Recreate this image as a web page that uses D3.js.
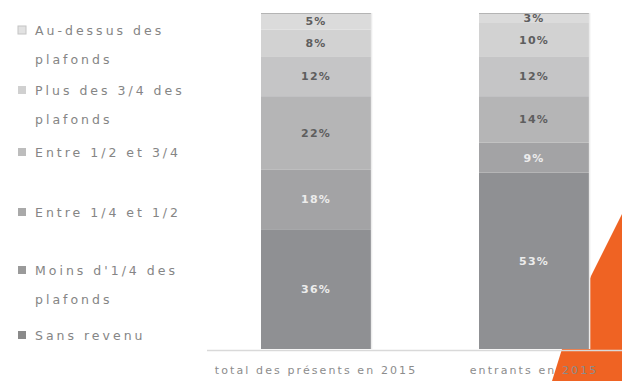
<!DOCTYPE html>
<html>
<head>
<meta charset="utf-8">
<script src="https://cdn.jsdelivr.net/npm/d3@7"></script>
<style>
  html, body { margin: 0; padding: 0; background: #fff; }
  svg { display: block; }
</style>
</head>
<body>
<svg id="chart" width="622" height="381"></svg>
<script>
// Categories (one stacked bar each)
const categories = ["total des présents en 2015", "entrants en 2015"];

// Income bands, stacked bottom to top
const bands = [
  "Sans revenu",
  "Moins d'1/4 des plafonds",
  "Entre 1/4 et 1/2",
  "Entre 1/2 et 3/4",
  "Plus des 3/4 des plafonds",
  "Au-dessus des plafonds"
];

// Shares (%) per band, bottom to top
const presentsValues = [36, 18, 22, 12, 8, 5];
const entrantsValues = [53, 9, 14, 12, 10, 3];

// Legend lines (top to bottom)
const legendLines = [
  ["Au-dessus des", "plafonds"],
  ["Plus des 3/4 des", "plafonds"],
  ["Entre 1/2 et 3/4"],
  ["Entre 1/4 et 1/2"],
  ["Moins d'1/4 des", "plafonds"],
  ["Sans revenu"]
];

const bandColors = ["#8f9093", "#a3a3a5", "#b5b5b6", "#c5c5c6", "#d2d2d2", "#dbdbdb"];
const legendColors = ["#8a8a8a", "#9a9a9a", "#a9a9a9", "#bdbdbd", "#d0d0d0", "#e2e2e2"];
const labelInk = ["#ececec", "#ececec", "#5e5e5e", "#5e5e5e", "#5e5e5e", "#5e5e5e"];

const svg = d3.select("#chart");

const rows = categories.map((c, i) => {
  const vals = i === 0 ? presentsValues : entrantsValues;
  const r = { cat: c };
  bands.forEach((b, j) => r[b] = vals[j]);
  return r;
});

const stack = d3.stack().keys(bands);
const series = stack(rows);
const total = d3.max(rows, r => d3.sum(bands, b => r[b]));

const x = d3.scaleBand().domain(categories).range([206.5, 643.6])
  .paddingInner(0.495).paddingOuter(0.25);
const y = d3.scaleLinear().domain([0, total]).range([349, 13]);

// Orange decorative slash in the lower right corner (behind the bars)
const slash = "M622,214 L591,276 L562,349 L552,381 L622,381 Z";
svg.append("defs").append("clipPath").attr("id", "slashClip")
  .append("path").attr("d", slash);
svg.append("path").attr("d", slash).attr("fill", "#ef6323");

// Stacked segments
const layer = svg.append("g").selectAll("g").data(series).join("g")
  .attr("fill", (d, i) => bandColors[i]);
layer.selectAll("rect").data(d => d).join("rect")
  .attr("x", d => x(d.data.cat))
  .attr("width", x.bandwidth())
  .attr("y", d => y(d[1]))
  .attr("height", d => y(d[0]) - y(d[1]));

// thin edges: darker top, light right side
const edges = svg.append("g");
edges.selectAll("line.top").data(categories).join("line").attr("class", "top")
  .attr("x1", d => x(d)).attr("x2", d => x(d) + x.bandwidth())
  .attr("y1", y(total) + 0.5).attr("y2", y(total) + 0.5)
  .attr("stroke", "#b4b4b4").attr("stroke-width", 1);
edges.selectAll("line.side").data(categories).join("line").attr("class", "side")
  .attr("x1", d => x(d) + x.bandwidth() + 0.5).attr("x2", d => x(d) + x.bandwidth() + 0.5)
  .attr("y1", y(total)).attr("y2", y(0))
  .attr("stroke", "#ececec").attr("stroke-width", 1.5);

// Segment value labels
const lab = svg.append("g").attr("font-family", "DejaVu Sans, sans-serif")
  .attr("font-size", 11).attr("font-weight", "bold")
  .attr("text-anchor", "middle").attr("letter-spacing", 1.3);
series.forEach((s, i) => {
  lab.selectAll(null).data(s).join("text")
    .attr("x", d => x(d.data.cat) + x.bandwidth() / 2)
    .attr("y", d => (y(d[0]) + y(d[1])) / 2 + 4)
    .attr("fill", labelInk[i])
    .text(d => (d[1] - d[0]) + "%");
});

// Baseline
svg.append("line")
  .attr("x1", 207).attr("x2", 622)
  .attr("y1", 350.5).attr("y2", 350.5)
  .attr("stroke", "#d9d9d9").attr("stroke-width", 1.5);

// Category labels, with a lighter copy over the orange slash
const xAxis = d3.axisBottom(x).tickSize(0).tickPadding(0);
function drawAxis(g, color) {
  g.attr("transform", "translate(0,366)").call(xAxis);
  g.select(".domain").remove();
  g.selectAll("text")
    .attr("font-family", "DejaVu Sans, sans-serif")
    .attr("font-size", 11)
    .attr("letter-spacing", 2.1)
    .attr("fill", color)
    .attr("dy", "0.71em");
}
svg.append("g").call(drawAxis, "#8c8c8c");
svg.append("g").attr("clip-path", "url(#slashClip)").call(drawAxis, "#f2a77c");

// Legend
const legend = svg.append("g").attr("font-family", "DejaVu Sans, sans-serif")
  .attr("font-size", 12.5).attr("fill", "#858585").attr("letter-spacing", 3);
const legendY = [30, 90, 152, 212, 270, 335];
legendLines.forEach((lines, i) => {
  const g = legend.append("g").attr("transform", `translate(0,${legendY[i]})`);
  g.append("rect").attr("x", 18).attr("y", -4).attr("width", 8).attr("height", 8)
    .attr("fill", legendColors[5 - i])
    .attr("stroke", i === 0 ? "#c4c4c4" : "none");
  lines.forEach((t, k) => {
    g.append("text").attr("x", 35).attr("y", 4.5 + k * 29).text(t);
  });
});
</script>
</body>
</html>
